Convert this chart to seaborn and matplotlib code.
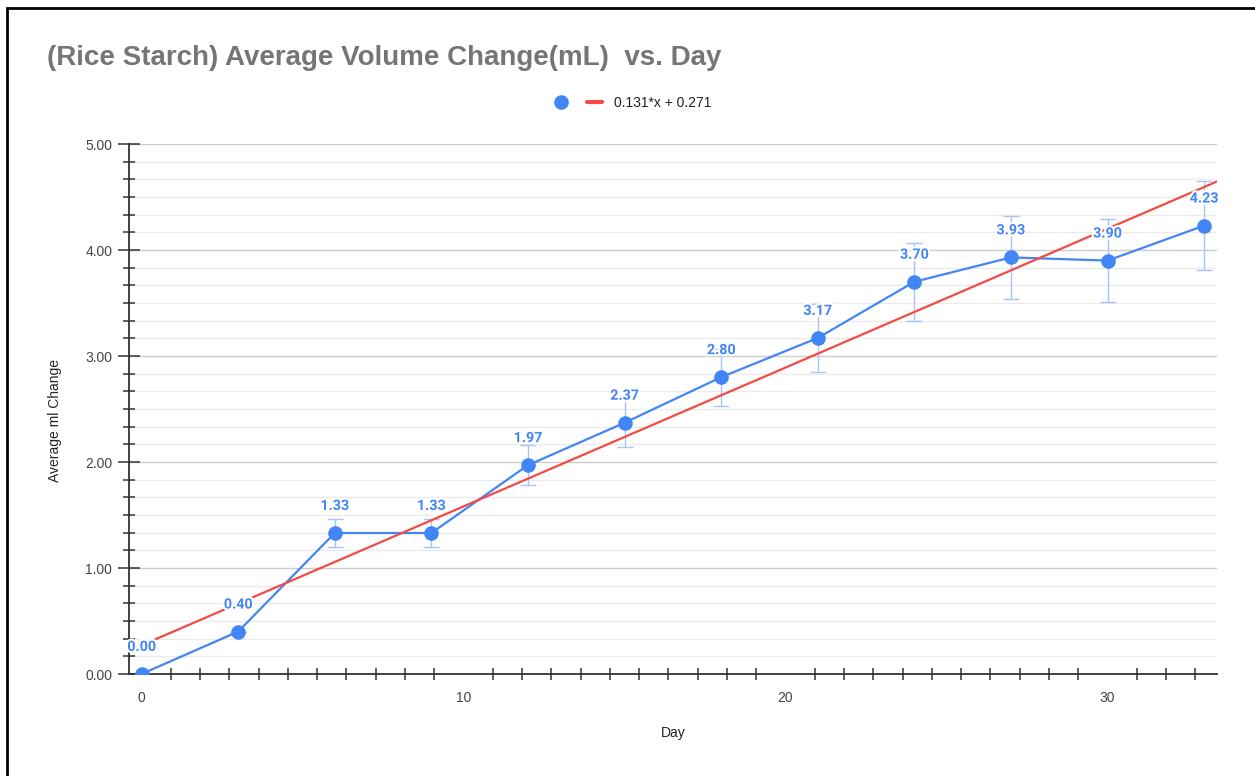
import numpy as np
import pandas as pd
import seaborn as sns
import matplotlib.pyplot as plt
import matplotlib.patheffects as pe
from matplotlib.lines import Line2D
from matplotlib.patches import Rectangle
from matplotlib.ticker import MultipleLocator, FixedLocator

# ── data ──────────────────────────────────────────────────────────────────────
days = [0, 3, 6, 9, 12, 15, 18, 21, 24, 27, 30, 33]
avg_change = [0.00, 0.40, 1.33, 1.33, 1.97, 2.37, 2.80, 3.17, 3.70, 3.93, 3.90, 4.23]
err = [0.0, 0.0, 0.13, 0.13, 0.19, 0.23, 0.27, 0.32, 0.37, 0.39, 0.39, 0.42]
trend_slope, trend_intercept = 0.131, 0.271
trend_label = "0.131*x + 0.271"

title = "(Rice Starch) Average Volume Change(mL)  vs. Day"
x_label = "Day"
y_label = "Average ml Change"

BLUE = "#4285f4"
RED = "#f44a45"
ERR_BLUE = "#a8c5fa"
GREY = "#444444"

XMIN, XMAX = -0.39, 33.4

df = pd.DataFrame({"Day": days, "Average": avg_change, "err": err})
trend_x = np.array([0, XMAX])
df_trend = pd.DataFrame({"Day": trend_x, "fit": trend_slope * trend_x + trend_intercept})

# ── figure ────────────────────────────────────────────────────────────────────
sns.set_theme(style="white")
plt.rcParams["font.family"] = ["Liberation Sans", "DejaVu Sans"]

W, H = 1255, 776
fig = plt.figure(figsize=(W / 100, H / 100), dpi=100)
ax = fig.add_axes([129 / W, 1 - 674 / H, (1217 - 129) / W, (674 - 144) / H])

# grid
ax.yaxis.set_major_locator(MultipleLocator(1))
ax.yaxis.set_minor_locator(MultipleLocator(1 / 6))
ax.grid(axis="y", which="major", color="#cccccc", lw=1, zorder=0)
ax.grid(axis="y", which="minor", color="#ebebeb", lw=1, zorder=0)
ax.set_axisbelow(True)

ax.errorbar(df["Day"], df["Average"], yerr=df["err"], fmt="none",
            ecolor=ERR_BLUE, elinewidth=1, capsize=6, capthick=1, zorder=2)
sns.lineplot(data=df, x="Day", y="Average", color=BLUE, lw=1.6, marker="o",
             markersize=10.5, markeredgewidth=0, ax=ax, zorder=3, legend=False)
sns.lineplot(data=df_trend, x="Day", y="fit", color=RED, lw=1.6,
             ax=ax, zorder=4, legend=False)

for d, v in zip(days, avg_change):
    ax.annotate(f"{v:.2f}", (d, v), xytext=(0, 19.5), textcoords="offset points",
                ha="center", va="center", color=BLUE, fontsize=10.3, fontweight="bold",
                family=["Roboto", "DejaVu Sans"],
                path_effects=[pe.withStroke(linewidth=3, foreground="white")], zorder=6)

ax.set_xlim(XMIN, XMAX)
ax.set_ylim(0, 5)

# ticks
ax.set_xticks([0, 10, 20, 30])
minor_x = [k * 10 / 11 for k in range(1, 37) if k % 11 != 0]
ax.xaxis.set_minor_locator(FixedLocator(minor_x))
ax.tick_params(axis="x", which="major", length=0, pad=12, labelsize=10, labelcolor=GREY)
ax.tick_params(axis="x", which="minor", direction="inout", length=8.6, width=1.1, color="#333333")
ax.set_yticklabels([f"{t:.2f}" for t in ax.get_yticks()])
ax.tick_params(axis="y", which="major", direction="inout", length=16, width=1.1,
               color="#333333", pad=4, labelsize=10, labelcolor=GREY)
ax.tick_params(axis="y", which="minor", direction="inout", length=8.6, width=1.1, color="#333333")
ax.yaxis.set_ticks_position("left")
ax.xaxis.set_ticks_position("bottom")

for s in ["top", "right"]:
    ax.spines[s].set_visible(False)
for s in ["left", "bottom"]:
    ax.spines[s].set_color("#333333")
    ax.spines[s].set_linewidth(1.3)

ax.set_xlabel("")
ax.set_ylabel("")
fig.text(673 / W, 1 - 733 / H, x_label, ha="center", va="center", fontsize=10, color="#222222")
fig.text(55 / W, 1 - 421 / H, y_label, ha="center", va="center", rotation=90,
         fontsize=10, color="#222222")

fig.text(47 / W, 1 - 58 / H, title, ha="left", va="center", fontsize=20,
         fontweight="bold", color="#757575")

# legend
dot = Line2D([], [], color=BLUE, marker="o", markersize=10.5, lw=0, markeredgewidth=0)
fit_line = Line2D([], [], color=RED, lw=3)
fig.legend(handles=[dot, fit_line], labels=["", trend_label], ncol=2, loc="center",
           bbox_to_anchor=(632 / W, 1 - 103 / H), frameon=False, fontsize=10,
           handlelength=1.1, handletextpad=0.8, columnspacing=0.55, labelcolor="#222222")

# outer frame
fig.add_artist(Rectangle((7 / W, -0.1), 1.2, 1.1 - 8 / H, transform=fig.transFigure,
                         fill=False, edgecolor="black", lw=2))

fig.savefig("out.png", dpi=100)
